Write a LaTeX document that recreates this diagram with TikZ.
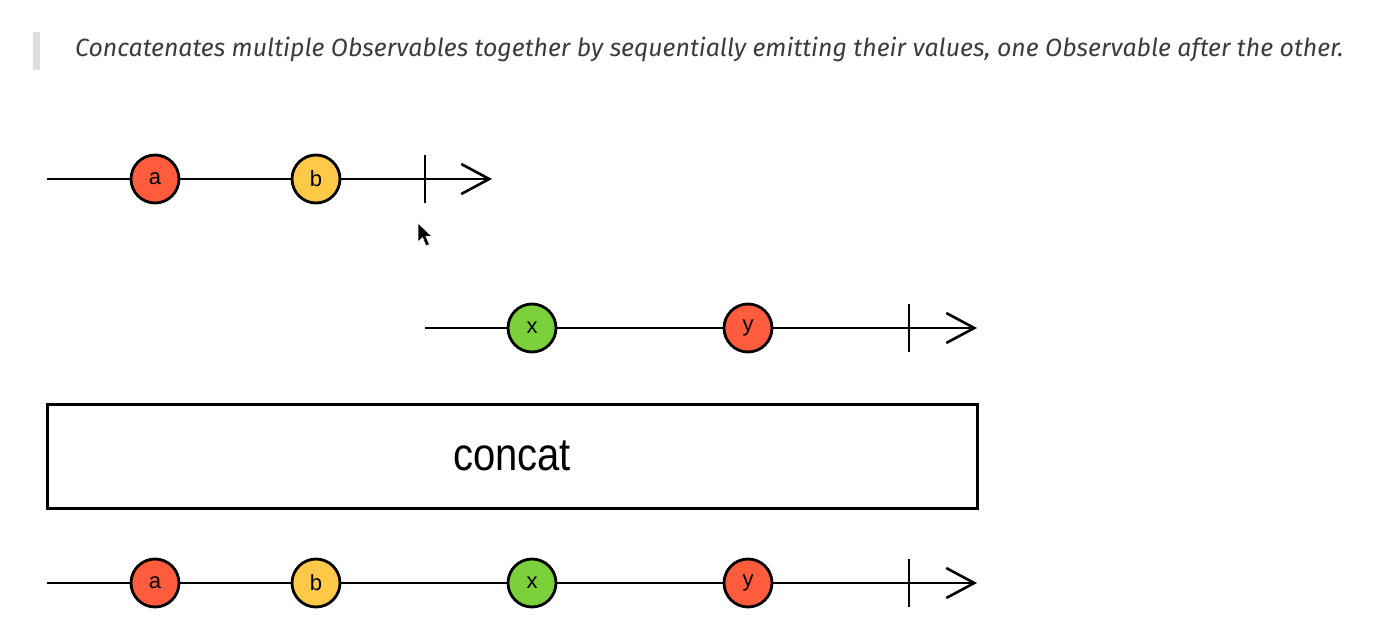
\documentclass[tikz,border=0pt]{standalone}
\usepackage{fontspec}
\setmainfont{Liberation Sans}
\newfontfamily\notefont{Fira Sans}
\usetikzlibrary{arrows.meta}

\definecolor{marbleRed}{HTML}{FF5B3D}
\definecolor{marbleYellow}{HTML}{FFC846}
\definecolor{marbleGreen}{HTML}{7BD13A}
\definecolor{noteGray}{HTML}{3C3C3C}

\begin{document}
\begin{tikzpicture}[
    x=1pt, y=-1pt,
    marble/.style={circle, draw, line width=2.8pt, minimum size=48pt, inner sep=0pt,
                   font=\fontsize{22}{22}\selectfont},
    timeline/.style={line width=2.6pt, -{Straight Barb[length=28pt, width=30pt, line width=2.6pt]}},
    endtick/.style={line width=2.6pt},
    opbox/.style={draw, line width=3pt, minimum width=930pt, minimum height=104pt,
                  inner sep=0pt, font=\fontsize{40}{40}\selectfont}
  ]
    \useasboundingbox (0,0) rectangle (1383,639);

    % quote line
    \fill[black!13] (33,32) rectangle (40,70);
    \node[anchor=base west, inner sep=0pt, text=noteGray] (note) at (75,57)
      {\notefont\itshape\fontsize{24.9}{24.9}\selectfont Concatenates multiple Observables together by sequentially emitting their values, one Observable after the other.};

    % first source
    \coordinate (s1start) at (47,179);
    \coordinate (s1end) at (492,179);
    \coordinate (s1done) at (425,179);
    \draw[timeline] (s1start) -- (s1end);
    \draw[endtick] ([yshift=-24pt]s1done) -- ([yshift=24pt]s1done);
    \node[marble, fill=marbleRed] (s1a) at (155,179) {a};
    \node[marble, fill=marbleYellow] (s1b) at (316,179) {b};

    % pointer
    \filldraw[fill=black, draw=white, line width=0.6pt]
      (418,223) -- (418,242) -- (422.5,237.5) -- (426,246) -- (429.5,244.5)
      -- (426,236.5) -- (432,236.5) -- cycle;

    % second source
    \coordinate (s2start) at (425,328);
    \coordinate (s2end) at (977,328);
    \coordinate (s2done) at (909,328);
    \draw[timeline] (s2start) -- (s2end);
    \draw[endtick] ([yshift=-24pt]s2done) -- ([yshift=24pt]s2done);
    \node[marble, fill=marbleGreen] (s2x) at (532,328) {x};
    \node[marble, fill=marbleRed] (s2y) at (748,328) {y};

    % operator
    \node[opbox] (op) at (512,456) {\scalebox{1}[1.15]{concat}};

    % result
    \coordinate (outstart) at (47,583);
    \coordinate (outend) at (977,583);
    \coordinate (outdone) at (909,583);
    \draw[timeline] (outstart) -- (outend);
    \draw[endtick] ([yshift=-24pt]outdone) -- ([yshift=24pt]outdone);
    \node[marble, fill=marbleRed] (outa) at (155,583) {a};
    \node[marble, fill=marbleYellow] (outb) at (316,583) {b};
    \node[marble, fill=marbleGreen] (outx) at (532,583) {x};
    \node[marble, fill=marbleRed] (outy) at (748,583) {y};
  \end{tikzpicture}
\end{document}
